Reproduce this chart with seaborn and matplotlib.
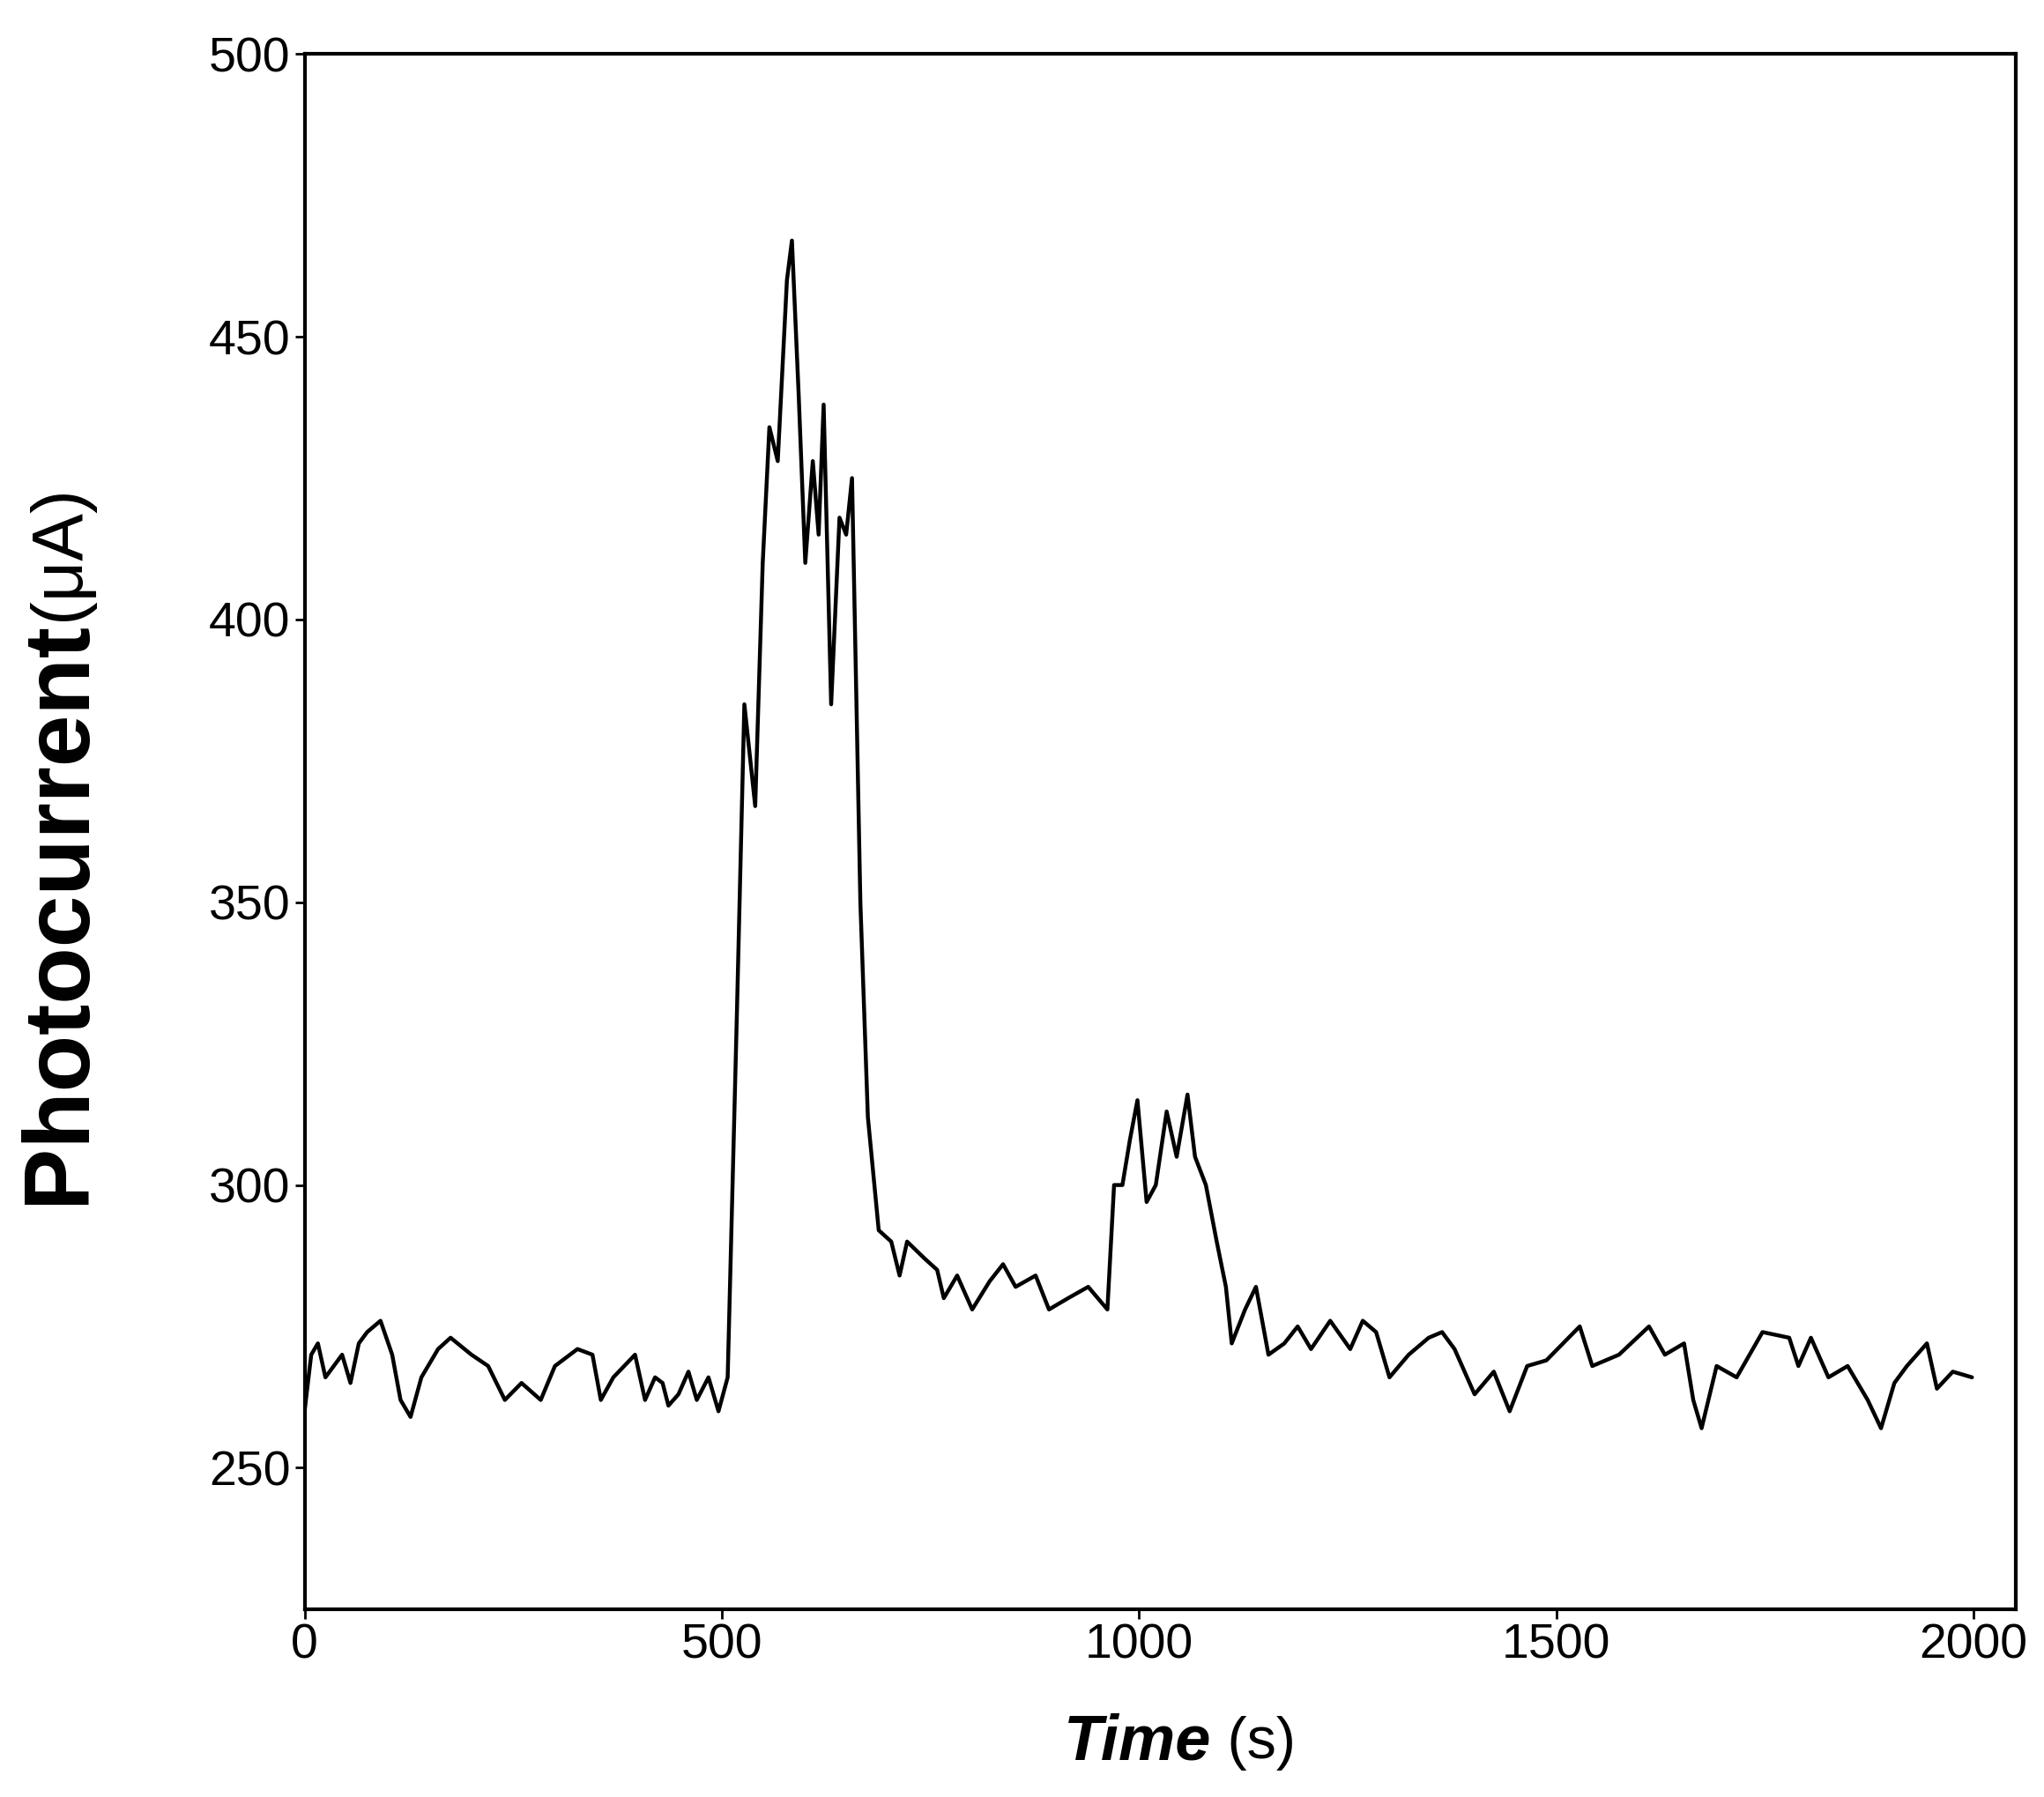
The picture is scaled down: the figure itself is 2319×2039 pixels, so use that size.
import matplotlib
matplotlib.use("Agg")
import matplotlib.pyplot as plt
import seaborn as sns
import pandas as pd

time_s = [0, 8, 16, 25, 35, 45, 55, 65, 75, 91, 105, 115, 127, 140, 160, 175, 200, 220, 240, 260,
          283, 300, 327, 345, 355, 370, 396, 408, 420, 429, 436, 448, 460, 470, 484, 496, 507,
          518, 527, 540, 549, 557, 567, 578, 584, 592, 600, 609, 616, 622, 631, 641, 649, 656,
          666, 675, 688, 703, 713, 722, 743, 758, 766, 782, 800, 821, 837, 852, 876, 892, 915,
          939, 962, 970, 980, 989, 998, 1009, 1020, 1033, 1045, 1058, 1067, 1080, 1093, 1104,
          1111, 1127, 1140, 1155, 1174, 1190, 1206, 1229, 1253, 1268, 1284, 1300, 1323, 1347,
          1363, 1378, 1402, 1425, 1444, 1465, 1488, 1528, 1543, 1575, 1611, 1630, 1653, 1664,
          1674, 1692, 1716, 1747, 1779, 1790, 1805, 1826, 1849, 1873, 1889, 1905, 1920, 1944,
          1956, 1975, 1998]
current_uA = [260, 270, 272, 266, 268, 270, 265, 272, 274, 276, 270, 262, 259, 266, 271, 273, 270, 268, 262, 265,
              262, 268, 271, 270, 262, 266, 270, 262, 266, 265, 261, 263, 267, 262, 266, 260, 266,
              330, 385, 367, 410, 434, 428, 460, 467, 440, 410, 428, 415, 438, 385, 418, 415, 425,
              350, 312, 292, 290, 284, 290, 287, 285, 280, 284, 278, 283, 286, 282, 284, 278, 280,
              282, 278, 300, 300, 308, 315, 297, 300, 313, 305, 316, 305, 300, 290, 282,
              272, 278, 282, 270, 272, 275, 271, 276, 271, 276, 274, 266, 270, 273,
              274, 271, 263, 267, 260, 268, 269, 275, 268, 270, 275, 270, 272, 262,
              257, 268, 266, 274, 273, 268, 273, 266, 268, 262, 257, 265, 268, 272,
              264, 267, 266]
x_ticks = [0, 500, 1000, 1500, 2000]
y_ticks = [250, 300, 350, 400, 450, 500]

sns.set_theme(style="white")
plt.rcParams['font.family'] = ['Liberation Sans', 'DejaVu Sans']
plt.rcParams['text.color'] = 'black'

df = pd.DataFrame({"t": time_s, "i": current_uA})
fig = plt.figure(figsize=(23.19, 20.39), dpi=100)
ax = fig.add_axes([0.149, 0.1045, 0.837, 0.8655])
sns.lineplot(data=df, x="t", y="i", ax=ax, color="black", linewidth=3.2)
ax.set_xlim(0, 2050)
ax.set_ylim(225, 500)
ax.set_xticks(x_ticks)
ax.set_yticks(y_ticks)
ax.tick_params(labelsize=40, length=8, width=2, direction="out", colors="black", left=True, bottom=True)
for s in ax.spines.values():
    s.set_color("black"); s.set_linewidth(3)
ax.set_xlabel(""); ax.set_ylabel("")
ax.text(0.53, -0.086, "Time", transform=ax.transAxes, ha="right", va="center",
        fontsize=52, fontweight="bold", fontstyle="italic", color="black")
ax.text(0.53, -0.086, " (s)", transform=ax.transAxes, ha="left", va="center", fontsize=48, color="black")
ax.text(-0.143, 0.636, "Photocurrent", transform=ax.transAxes, ha="center", va="top",
        rotation=90, fontsize=76, fontweight="bold", color="black")
ax.text(-0.143, 0.636, "(μA)", transform=ax.transAxes, ha="center", va="bottom",
        rotation=90, fontsize=58, color="black")
fig.savefig("out.png", dpi=100)
